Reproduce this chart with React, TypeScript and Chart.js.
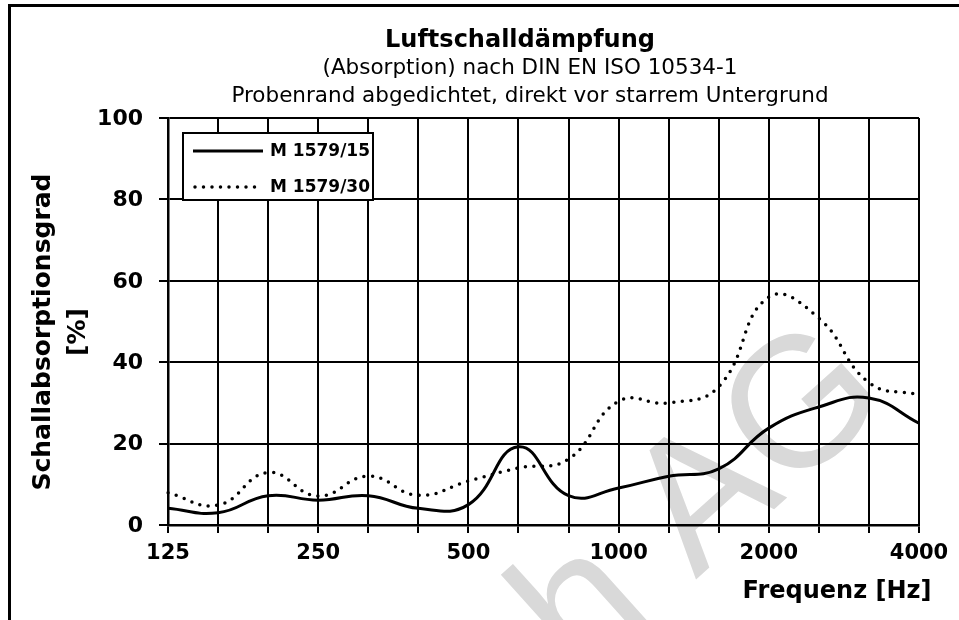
import { useEffect, useRef } from 'react';
import { Chart, registerables } from 'chart.js';

Chart.register(...registerables);

const categories = ['125', '160', '200', '250', '315', '400', '500', '630', '800', '1000', '1250', '1600', '2000', '2500', '3150', '4000'];
const tickLabels = ['125', '250', '500', '1000', '2000', '4000'];
const seriesNames = ['M 1579/15', 'M 1579/30'];
const seriesM15 = [4.1, 3.0, 7.2, 6.1, 7.2, 4.1, 5.0, 19.2, 7.2, 9.1, 12.0, 13.8, 23.8, 29.0, 31.2, 25.0];
const seriesM30 = [7.9, 4.9, 12.9, 7.1, 12.0, 7.3, 10.8, 14.0, 16.2, 30.4, 30.0, 34.0, 56.0, 50.8, 35.0, 32.0];
const titleLines = ['Luftschalldämpfung', '(Absorption) nach DIN EN ISO 10534-1', 'Probenrand abgedichtet, direkt vor starrem Untergrund'];
const yTitleLines = ['Schallabsorptionsgrad', '[%]'];
const xTitle = 'Frequenz [Hz]';
const watermarkText = 'h AG';
const yMin = 0;
const yMax = 100;
const yStep = 20;

const FONT = '"DejaVu Sans", sans-serif';

const decorPlugin = {
  id: 'decor',
  beforeDraw(chart: any) {
    const ctx = chart.ctx;
    ctx.save();
    // watermark
    ctx.fillStyle = '#d9d9d9';
    ctx.font = '185px "Liberation Sans", Arial, sans-serif';
    ctx.textAlign = 'left';
    ctx.textBaseline = 'alphabetic';
    ctx.translate(581, 683);
    ctx.rotate((-42 * Math.PI) / 180);
    ctx.fillText(watermarkText, 0, 0);
    ctx.restore();

    ctx.save();
    ctx.strokeStyle = '#000';
    ctx.lineWidth = 3;
    ctx.beginPath();
    ctx.moveTo(9.5, 620);
    ctx.lineTo(9.5, 5.5);
    ctx.lineTo(959, 5.5);
    ctx.stroke();
    ctx.restore();
  },
  afterDraw(chart: any) {
    const ctx = chart.ctx;
    ctx.save();
    ctx.fillStyle = '#000';
    ctx.textAlign = 'center';
    ctx.textBaseline = 'alphabetic';
    ctx.font = `bold 24px ${FONT}`;
    ctx.fillText(titleLines[0], 520, 47);
    ctx.font = `21.5px ${FONT}`;
    ctx.fillText(titleLines[1], 530, 74);
    ctx.fillText(titleLines[2], 530, 102);

    // x axis title
    ctx.font = `bold 24px ${FONT}`;
    ctx.fillText(xTitle, 837, 598);

    // y axis title
    ctx.save();
    ctx.translate(0, 332);
    ctx.rotate(-Math.PI / 2);
    ctx.font = `bold 25px ${FONT}`;
    ctx.fillText(yTitleLines[0], 0, 50);
    ctx.fillText(yTitleLines[1], 0, 85);
    ctx.restore();

    // legend
    const lx = 183, ly = 133, lw = 190, lh = 67;
    ctx.fillStyle = '#fff';
    ctx.fillRect(lx, ly, lw, lh);
    ctx.strokeStyle = '#000';
    ctx.lineWidth = 2;
    ctx.strokeRect(lx, ly, lw, lh);
    const rows = [151, 187];
    chart.data.datasets.forEach((ds: any, i: number) => {
      const y = rows[i];
      ctx.save();
      ctx.strokeStyle = ds.borderColor;
      ctx.lineWidth = ds.borderWidth;
      ctx.lineCap = ds.borderCapStyle || 'butt';
      ctx.setLineDash(ds.borderDash || []);
      ctx.beginPath();
      ctx.moveTo(i === 0 ? 193 : 195, y);
      ctx.lineTo(263, y);
      ctx.stroke();
      ctx.restore();
      ctx.fillStyle = '#000';
      ctx.font = `bold 17px ${FONT}`;
      ctx.textAlign = 'left';
      ctx.textBaseline = 'middle';
      ctx.fillText(ds.label, 270, y + 1);
    });
    ctx.restore();
  },
};

export default function App() {
  const ref = useRef<HTMLCanvasElement | null>(null);

  useEffect(() => {
    if (!ref.current) return;
    const chart = new Chart(ref.current, {
      type: 'line',
      data: {
        labels: categories,
        datasets: [
          {
            label: seriesNames[0],
            data: seriesM15,
            borderColor: '#000',
            borderWidth: 3,
            tension: 0.45,
            pointRadius: 0,
            fill: false,
          },
          {
            label: seriesNames[1],
            data: seriesM30,
            borderColor: '#000',
            borderWidth: 3.5,
            borderDash: [0, 8.5],
            borderCapStyle: 'round',
            tension: 0.45,
            pointRadius: 0,
            fill: false,
          },
        ],
      },
      options: {
        responsive: false,
        animation: false,
        layout: { padding: { top: 118, right: 40, left: 0, bottom: 0 } },
        plugins: {
          legend: { display: false },
          title: { display: false },
          tooltip: { enabled: false },
        },
        scales: {
          x: {
            type: 'category',
            offset: false,
            grid: { color: '#000', lineWidth: 2, tickLength: 8, drawTicks: true, offset: false },
            border: { color: '#000', width: 2.5 },
            ticks: {
              autoSkip: false,
              maxRotation: 0,
              minRotation: 0,
              padding: 8,
              color: '#000',
              font: { family: FONT, size: 21, weight: 'bold' },
              callback: (_v: any, i: number) => (tickLabels.includes(categories[i]) ? categories[i] : ''),
            },
            afterFit: (s: any) => {
              s.height = 95;
            },
          },
          y: {
            min: yMin,
            max: yMax,
            grid: { color: '#000', lineWidth: 2, tickLength: 9, drawTicks: true },
            border: { color: '#000', width: 2.5 },
            ticks: {
              stepSize: yStep,
              padding: 16,
              labelOffset: 1,
              color: '#000',
              font: { family: FONT, size: 22, weight: 'bold' },
            },
            afterFit: (s: any) => {
              s.width = 168;
            },
          },
        },
      } as any,
      plugins: [decorPlugin],
    });
    return () => chart.destroy();
  }, []);

  return (
    <div style={{ position: 'absolute', left: 0, top: 0, width: 959, height: 620, background: '#fff' }}>
      <canvas ref={ref} width={959} height={620} style={{ width: 959, height: 620, display: 'block' }} />
    </div>
  );
}
